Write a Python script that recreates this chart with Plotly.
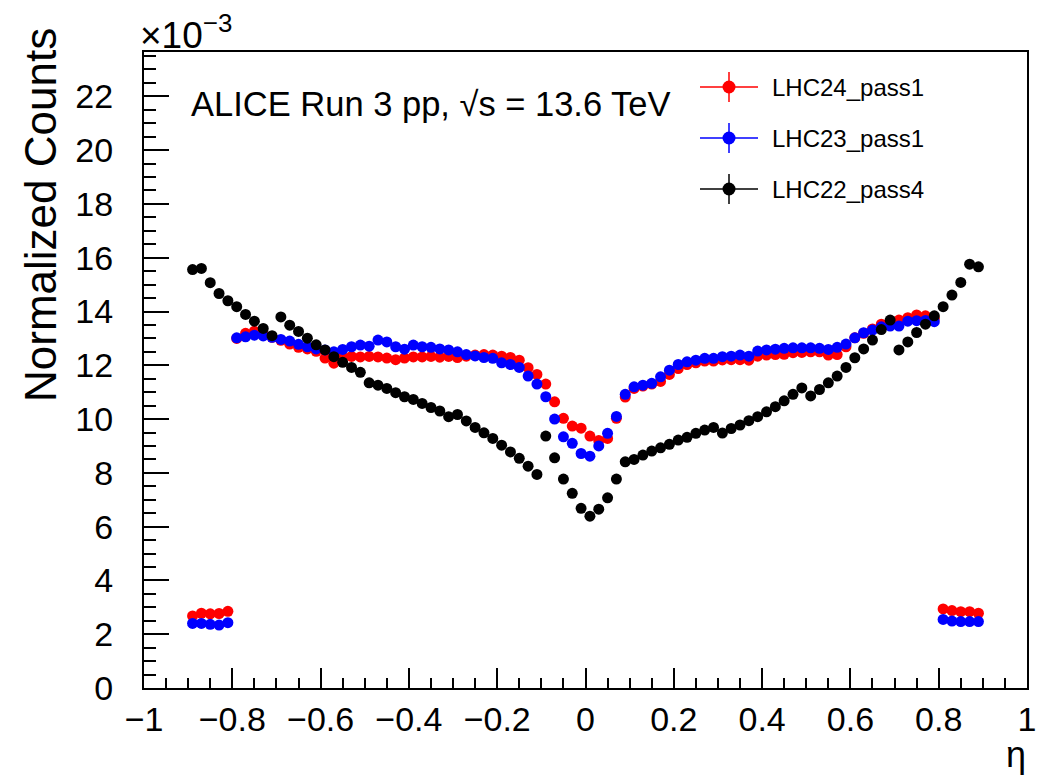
import plotly.graph_objects as go

# ---------------- data (values in units of 1e-3) ----------------
eta = [round(-0.89 + 0.02 * i, 2) for i in range(90)]

lhc24_pass1 = [
    2.68, 2.78, 2.76, 2.77, 2.85,
    13.00, 13.19, 13.27, 13.16, 13.04, 12.93, 12.79, 12.67, 12.61, 12.52,
    12.27, 12.08, 12.31, 12.33, 12.31, 12.33, 12.31, 12.27, 12.21, 12.27,
    12.31, 12.31, 12.33, 12.30, 12.33, 12.29, 12.34, 12.38, 12.40, 12.38,
    12.34, 12.29, 12.19, 11.91, 11.66, 11.30, 10.64, 10.03, 9.74, 9.66,
    9.37, 9.20, 9.28, 10.03, 10.82, 11.14, 11.23, 11.30, 11.40, 11.66,
    11.88, 12.03, 12.09, 12.16, 12.16, 12.20, 12.21, 12.21, 12.19, 12.34,
    12.38, 12.40, 12.41, 12.47, 12.48, 12.50, 12.50, 12.38, 12.40, 12.69,
    13.02, 13.19, 13.35, 13.53, 13.62, 13.68, 13.77, 13.87, 13.84, 13.74,
    2.94, 2.88, 2.84, 2.84, 2.78,
]

lhc23_pass1 = [
    2.40, 2.40, 2.37, 2.34, 2.43,
    13.02, 13.06, 13.12, 13.09, 13.04, 12.96, 12.90, 12.78, 12.69, 12.61,
    12.57, 12.50, 12.59, 12.69, 12.75, 12.71, 12.94, 12.87, 12.69, 12.60,
    12.75, 12.69, 12.67, 12.61, 12.57, 12.50, 12.40, 12.35, 12.29, 12.26,
    12.09, 12.03, 11.92, 11.60, 11.30, 10.83, 10.00, 9.34, 9.10, 8.72,
    8.62, 9.00, 9.47, 10.10, 10.92, 11.20, 11.26, 11.33, 11.57, 11.82,
    12.03, 12.13, 12.19, 12.26, 12.26, 12.32, 12.34, 12.38, 12.34, 12.53,
    12.57, 12.60, 12.63, 12.65, 12.65, 12.65, 12.63, 12.59, 12.67, 12.79,
    13.02, 13.21, 13.31, 13.43, 13.46, 13.46, 13.64, 13.66, 13.67, 13.62,
    2.55, 2.49, 2.47, 2.47, 2.47,
]

lhc22_pass4 = [
    15.56, 15.60, 15.07, 14.67, 14.40, 14.18, 13.89, 13.64, 13.37, 13.10,
    13.80, 13.49, 13.26, 13.01, 12.76, 12.57, 12.32, 12.11, 11.92, 11.74,
    11.35, 11.26, 11.14, 10.98, 10.83, 10.73, 10.58, 10.43, 10.30, 10.09,
    10.17, 9.93, 9.69, 9.49, 9.28, 9.03, 8.78, 8.54, 8.25, 7.94,
    9.37, 8.56, 7.77, 7.24, 6.68,
    6.39, 6.65, 7.07, 7.77, 8.41, 8.50, 8.66, 8.81, 8.93, 9.06,
    9.22, 9.32, 9.47, 9.59, 9.69, 9.48, 9.65, 9.78, 9.94, 10.09,
    10.27, 10.46, 10.68, 10.92, 11.16, 10.86, 11.10, 11.35, 11.60, 11.92,
    12.28, 12.61, 12.94, 13.33, 13.68, 12.57, 12.87, 13.22, 13.53, 13.84,
    14.18, 14.61, 15.08, 15.76, 15.66,
]

series_names = ["LHC24_pass1", "LHC23_pass1", "LHC22_pass4"]
series_colors = ["#ff0000", "#0000ff", "#000000"]
series_values = [lhc24_pass1, lhc23_pass1, lhc22_pass4]

x_tick_vals = [-1, -0.8, -0.6, -0.4, -0.2, 0, 0.2, 0.4, 0.6, 0.8, 1]
x_tick_text = ["\u22121", "\u22120.8", "\u22120.6", "\u22120.4", "\u22120.2", "0",
               "0.2", "0.4", "0.6", "0.8", "1"]
y_tick_vals = [0, 2, 4, 6, 8, 10, 12, 14, 16, 18, 20, 22]
y_tick_text = [str(v) for v in y_tick_vals]

SCALE = 1e-3
FONT = "Liberation Sans, Arial, Helvetica, sans-serif"

# ---------------- figure ----------------
# the page body has an 8 px default margin, so the figure is placed at (8, 8)
OFF = 8
W, H = 1047 - OFF, 777 - OFF
PL, PR, PT, PB = 144, 1027, 52, 688          # plot area in window pixels
ML, MT = PL - OFF, PT - OFF
MR, MB = W - (PR - OFF), H - (PB - OFF)
PW, PH = PR - PL, PB - PT


def px2x(px):
    return (px - PL) / PW


def px2y(py):
    return (PB - py) / PH


fig = go.Figure()
for name, color, vals in zip(series_names, series_colors, series_values):
    fig.add_trace(go.Scatter(
        x=eta, y=[v * SCALE for v in vals], mode="markers", name=name,
        marker=dict(color=color, size=11, line=dict(width=0)),
        showlegend=False,
    ))

shapes = []
annotations = []

# legend (drawn ROOT style, with error-bar crosses)
leg_rows = [87, 138, 189]
for name, color, yc in zip(series_names, series_colors, leg_rows):
    shapes.append(dict(type="line", xref="paper", yref="paper",
                       x0=px2x(700), x1=px2x(758), y0=px2y(yc), y1=px2y(yc),
                       line=dict(color=color, width=1.5)))
    shapes.append(dict(type="line", xref="paper", yref="paper",
                       x0=px2x(729), x1=px2x(729), y0=px2y(yc - 15), y1=px2y(yc + 15),
                       line=dict(color=color, width=1.5)))
    r = 6.5
    shapes.append(dict(type="circle", xref="paper", yref="paper",
                       x0=px2x(729 - r), x1=px2x(729 + r), y0=px2y(yc + r), y1=px2y(yc - r),
                       fillcolor=color, line=dict(color=color, width=0)))
    annotations.append(dict(text=name, xref="paper", yref="paper",
                            x=px2x(770), y=px2y(yc), xanchor="left", yanchor="middle",
                            showarrow=False, font=dict(size=24, color="black", family=FONT)))

annotations += [
    dict(text="ALICE Run 3 pp, \u221as = 13.6 TeV", xref="paper", yref="paper",
         x=px2x(189), y=px2y(104), xanchor="left", yanchor="middle", showarrow=False,
         font=dict(size=34.5, color="black", family=FONT)),
    dict(text="Normalized Counts", xref="paper", yref="paper", textangle=-90,
         x=px2x(40), y=px2y(215), xanchor="center", yanchor="middle", showarrow=False,
         font=dict(size=44, color="black", family=FONT)),
    dict(text="\u03b7", xref="paper", yref="paper",
         x=px2x(1016), y=px2y(754), xanchor="center", yanchor="middle", showarrow=False,
         font=dict(size=36, color="black", family=FONT)),
    dict(text="\u00d710<sup>\u22123</sup>", xref="paper", yref="paper",
         x=px2x(138), y=px2y(58), xanchor="left", yanchor="bottom", showarrow=False,
         font=dict(size=37, color="black", family=FONT)),
]

axis_common = dict(
    showline=True, linecolor="black", linewidth=2, mirror=True,
    showgrid=False, zeroline=False, ticks="inside", tickcolor="black",
    tickwidth=1.5, tickfont=dict(size=34, color="black", family=FONT),
)

fig.update_layout(
    width=W, height=H,
    margin=dict(l=ML, r=MR, t=MT, b=MB),
    paper_bgcolor="white", plot_bgcolor="white",
    showlegend=False,
    xaxis=dict(range=[-1, 1], tickmode="array", tickvals=x_tick_vals, ticktext=x_tick_text,
               ticklen=20, ticklabelstandoff=0,
               minor=dict(ticks="inside", dtick=0.05, tick0=-1, ticklen=10,
                          tickcolor="black", tickwidth=1.5),
               **axis_common),
    yaxis=dict(range=[0, 23.65 * SCALE], tickmode="array",
               tickvals=[v * SCALE for v in y_tick_vals], ticktext=y_tick_text,
               ticklen=25, ticklabelstandoff=22,
               minor=dict(ticks="inside", dtick=0.5 * SCALE, tick0=0, ticklen=12,
                          tickcolor="black", tickwidth=1.5),
               **axis_common),
    shapes=shapes,
    annotations=annotations,
)

fig.write_html("out.html")
